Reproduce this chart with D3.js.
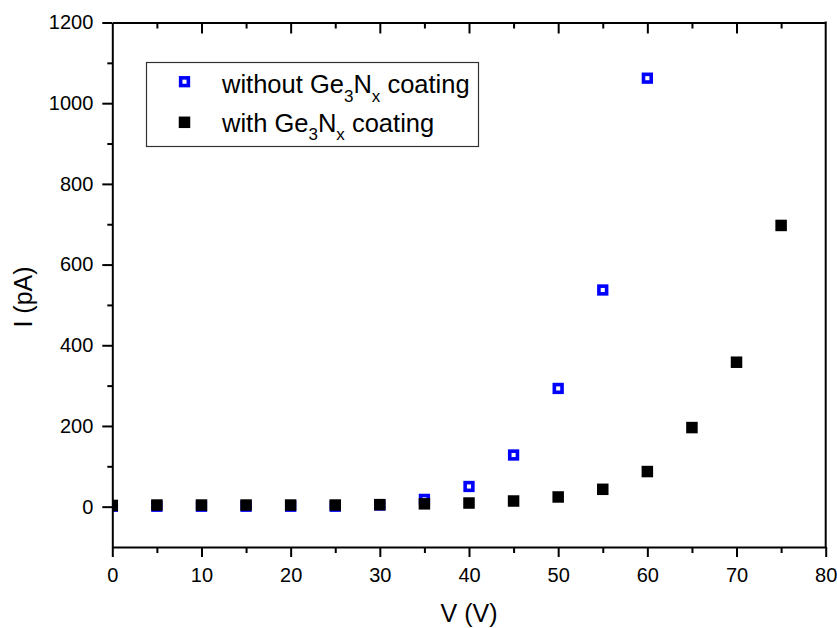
<!DOCTYPE html>
<html>
<head>
<meta charset="utf-8">
<script src="https://cdn.jsdelivr.net/npm/d3@7"></script>
<style>
  html, body { margin: 0; padding: 0; background: #fff; }
  svg { display: block; font-family: "Liberation Sans", Arial, sans-serif; }
</style>
</head>
<body>
<svg id="chart" width="837" height="628"></svg>
<script>
// Bias voltage (V)
const voltage = [0, 5, 10, 15, 20, 25, 30, 35, 40, 45, 50, 55, 60, 65, 70, 75];
// Leakage current (pA), uncoated detector (measured up to 60 V)
const currentUncoated = [1, 1, 1, 1, 1, 1, 4, 18, 50, 128, 293, 537, 1062];
// Leakage current (pA), Ge3Nx coated detector
const currentCoated = [3, 4, 4, 4, 4, 4, 5, 7, 9, 14, 24, 43, 87, 196, 358, 697];

const xMajorTicks = [0, 10, 20, 30, 40, 50, 60, 70, 80];
const xMinorTicks = [5, 15, 25, 35, 45, 55, 65, 75];
const yMajorTicks = [0, 200, 400, 600, 800, 1000, 1200];
const yMinorTicks = [100, 300, 500, 700, 900, 1100];

const seriesUncoated = { label: "without", voltage, current: currentUncoated };
const seriesCoated = { label: "with", voltage, current: currentCoated };

const svg = d3.select("#chart");
const plotLeft = 112.3, plotRight = 825.7, plotTop = 22.5, plotBottom = 547;

const x = d3.scaleLinear().domain([0, 80]).range([plotLeft, plotRight]);
const y = d3.scaleLinear().domain([-100, 1200]).range([plotBottom, plotTop]);

const axisColor = "#000";

// clip region for markers
svg.append("defs").append("clipPath").attr("id", "plotClip")
  .append("rect")
  .attr("x", plotLeft).attr("y", plotTop)
  .attr("width", plotRight - plotLeft).attr("height", plotBottom - plotTop);

// markers: open blue squares first, filled black squares on top
const markers = svg.append("g").attr("clip-path", "url(#plotClip)");

const openSize = 7.7, openStroke = 3.6;
markers.selectAll("rect.uncoated")
  .data(seriesUncoated.current.map((c, i) => [seriesUncoated.voltage[i], c]))
  .join("rect")
  .attr("class", "uncoated")
  .attr("x", d => x(d[0]) - openSize / 2)
  .attr("y", d => y(d[1]) - openSize / 2)
  .attr("width", openSize).attr("height", openSize)
  .attr("fill", "#fff")
  .attr("stroke", "#0000ff")
  .attr("stroke-width", openStroke);

const fillSize = 11.5;
markers.selectAll("rect.coated")
  .data(seriesCoated.current.map((c, i) => [seriesCoated.voltage[i], c]))
  .join("rect")
  .attr("class", "coated")
  .attr("x", d => x(d[0]) - fillSize / 2)
  .attr("y", d => y(d[1]) - fillSize / 2)
  .attr("width", fillSize).attr("height", fillSize)
  .attr("fill", "#000");

// axes
function styleAxis(g) {
  g.selectAll("path.domain").attr("stroke", axisColor).attr("stroke-width", 2);
  g.selectAll(".tick line").attr("stroke", axisColor).attr("stroke-width", 2);
  g.selectAll(".tick text")
    .attr("fill", "#000")
    .style("font-size", "20px")
    .style("font-family", "'Liberation Sans', Arial, sans-serif");
}

// bottom axis
svg.append("g")
  .attr("transform", `translate(0,${plotBottom})`)
  .call(d3.axisBottom(x).tickValues(xMajorTicks).tickSize(10).tickSizeOuter(0).tickPadding(10.5).tickFormat(d3.format("d")))
  .call(styleAxis);
svg.append("g")
  .attr("transform", `translate(0,${plotBottom})`)
  .call(d3.axisBottom(x).tickValues(xMinorTicks).tickSize(6).tickSizeOuter(0).tickFormat(""))
  .call(styleAxis)
  .call(g => g.select("path.domain").remove());

// left axis
svg.append("g")
  .attr("transform", `translate(${plotLeft},0)`)
  .call(d3.axisLeft(y).tickValues(yMajorTicks).tickSize(10).tickSizeOuter(0).tickPadding(9).tickFormat(d3.format("d")))
  .call(styleAxis);
svg.append("g")
  .attr("transform", `translate(${plotLeft},0)`)
  .call(d3.axisLeft(y).tickValues(yMinorTicks).tickSize(5).tickSizeOuter(0).tickFormat(""))
  .call(styleAxis)
  .call(g => g.select("path.domain").remove());

// top axis, ticks pointing inward
svg.append("g")
  .attr("transform", `translate(0,${plotTop})`)
  .call(d3.axisTop(x).tickValues(xMajorTicks.slice(1, -1)).tickSize(-11).tickSizeOuter(0).tickFormat(""))
  .call(styleAxis);
svg.append("g")
  .attr("transform", `translate(0,${plotTop})`)
  .call(d3.axisTop(x).tickValues(xMinorTicks).tickSize(-6).tickSizeOuter(0).tickFormat(""))
  .call(styleAxis)
  .call(g => g.select("path.domain").remove());

// right axis line
svg.append("line")
  .attr("x1", plotRight).attr("x2", plotRight)
  .attr("y1", plotTop - 1).attr("y2", plotBottom + 1)
  .attr("stroke", axisColor).attr("stroke-width", 2);

// axis titles
svg.append("text")
  .attr("x", 469).attr("y", 621.5)
  .attr("text-anchor", "middle")
  .style("font-size", "25px")
  .text("V (V)");

svg.append("text")
  .attr("transform", "translate(32,297) rotate(-90)")
  .attr("text-anchor", "middle")
  .style("font-size", "25px")
  .text("I (pA)");

// legend
const legend = svg.append("g");
legend.append("rect")
  .attr("x", 146.5).attr("y", 62.5)
  .attr("width", 332).attr("height", 84)
  .attr("fill", "#fff")
  .attr("stroke", "#333").attr("stroke-width", 1.2);

const legendRows = [
  { series: seriesUncoated, yMark: 81.7, yBase: 93.3 },
  { series: seriesCoated, yMark: 122.3, yBase: 131.8 }
];

legendRows.forEach(row => {
  if (row.series === seriesUncoated) {
    legend.append("rect")
      .attr("x", 184.5 - openSize / 2).attr("y", row.yMark - openSize / 2)
      .attr("width", openSize).attr("height", openSize)
      .attr("fill", "#fff").attr("stroke", "#0000ff").attr("stroke-width", openStroke);
  } else {
    legend.append("rect")
      .attr("x", 184.5 - fillSize / 2).attr("y", row.yMark - fillSize / 2)
      .attr("width", fillSize).attr("height", fillSize)
      .attr("fill", "#000");
  }
  const t = legend.append("text")
    .attr("x", 222).attr("y", row.yBase)
    .style("font-size", "25.5px");
  t.append("tspan").text(row.series.label + " Ge");
  t.append("tspan").attr("dy", 8.5).style("font-size", "17px").text("3");
  t.append("tspan").attr("dy", -8.5).text("N");
  t.append("tspan").attr("dy", 8.5).style("font-size", "17px").text("x");
  t.append("tspan").attr("dy", -8.5).text(" coating");
});
</script>
</body>
</html>
